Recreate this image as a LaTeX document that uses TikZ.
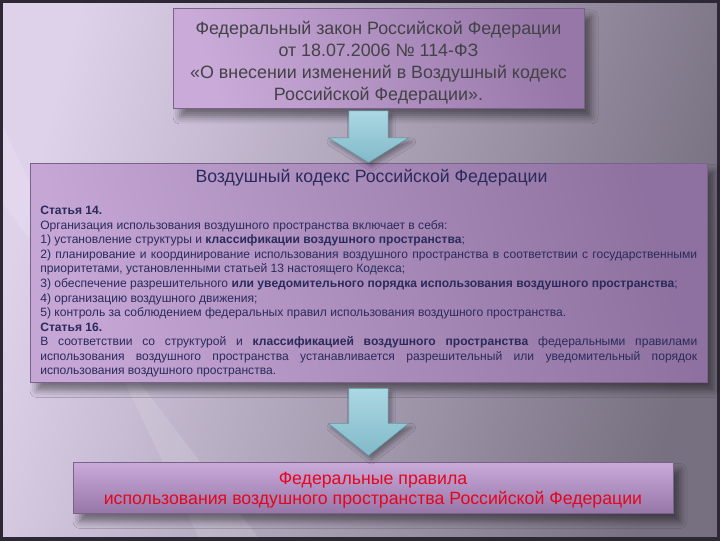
\documentclass[tikz,border=0pt]{standalone}
\usepackage{fontspec}
\setmainfont{Liberation Sans}
\usetikzlibrary{calc,shadows.blur}

\definecolor{bgleft}{HTML}{DED2EB}
\definecolor{bgright}{HTML}{777080}
\definecolor{frame}{HTML}{2E2836}
\definecolor{boxlight}{HTML}{C9AAD9}
\definecolor{boxdark}{HTML}{9677A8}
\definecolor{boxedge}{HTML}{7A628C}
\definecolor{lawtext}{HTML}{434246}
\definecolor{codetext}{HTML}{2A2B5C}
\definecolor{rulestext}{HTML}{E4061E}
\definecolor{arrowtop}{HTML}{AAD8E3}
\definecolor{arrowbot}{HTML}{82B9C8}
\definecolor{arrowedge}{HTML}{6199A8}

\def\px{0.025cm}
\newcommand{\bodyfont}{\fontsize{8.6pt}{10.35pt}\selectfont\parindent=0pt\hyphenpenalty=10000\relax}

\tikzset{
  panel/.style={draw=boxedge, line width=0.6pt,
    blur shadow={shadow xshift=5pt, shadow yshift=-6pt, shadow blur radius=5pt, shadow opacity=45}},
  lawbox/.style={panel, left color=boxlight, right color=boxdark, shading angle=110,
    text=lawtext, align=center, font=\fontsize{12.7pt}{15.6pt}\selectfont},
  codebox/.style={panel, left color=boxlight!92!boxdark, right color=boxdark!95!black, shading angle=105},
  rulesbox/.style={panel, top color=boxlight, bottom color=boxdark, shading angle=0,
    text=rulestext, align=center, font=\fontsize{12.6pt}{14.2pt}\selectfont},
  codehead/.style={text=codetext, font=\fontsize{12.6pt}{14pt}\selectfont, inner sep=0pt},
  codebody/.style={text=codetext, text width=657*\px, align=justify, inner sep=0pt, font=\bodyfont},
  arrowfill/.style={top color=arrowtop, bottom color=arrowbot, draw=arrowedge, line width=0.4pt,
    blur shadow={shadow xshift=2pt, shadow yshift=-3pt, shadow blur radius=3pt, shadow opacity=35}}
}

% block arrow: top of shaft, tip
\newcommand{\fatarrow}[2]{%
  \path[arrowfill] let \p1=(#1), \p2=(#2), \p3=($(#1)!0.52!(#2)$) in
    (\x2-14pt,\y1) -- (\x2+14pt,\y1) -- (\x2+14pt,\y3) -- (\x2+28.5pt,\y3)
    -- (\x2,\y2) -- (\x2-28.5pt,\y3) -- (\x2-14pt,\y3) -- cycle;}

\begin{document}
\begin{tikzpicture}[x=\px,y=-\px]
\useasboundingbox (0,0) rectangle (720,540);

% background
\shade[left color=bgleft, right color=bgright, shading angle=75] (0,0) rectangle (720,540);
\fill[white, opacity=0.12] (0,120) -- (0,200) -- (260,540) -- (200,540) -- cycle; %light streak%
\draw[frame, line width=4pt] (0,0) rectangle (720,540);

% boxes
\node[lawbox, minimum width=411*\px, minimum height=93*\px] (law) at (378.5,58.5)
  {\rule{0pt}{15pt}Федеральный закон Российской Федерации\\
   от 18.07.2006 № 114-ФЗ\\
   «О внесении изменений в Воздушный кодекс\\
   Российской Федерации».};

\node[codebox, minimum width=677*\px, minimum height=219*\px] (code) at (368.5,272.5) {};
\node[codehead] (codetitle) at ($(code.north)+(3,15)$) {Воздушный кодекс Российской Федерации};
\node[codebody, anchor=north west] (codetext) at (40,206)
  {\textbf{Статья 14.}\par
   Организация использования воздушного пространства включает в себя:\par
   1) установление структуры и \textbf{классификации воздушного пространства};\par
   2) планирование и координирование использования воздушного пространства в соответствии с государственными приоритетами, установленными статьей 13 настоящего Кодекса;\par
   3) обеспечение разрешительного \textbf{или уведомительного порядка использования воздушного пространства};\par
   4) организацию воздушного движения;\par
   5) контроль за соблюдением федеральных правил использования воздушного пространства.\par
   \textbf{Статья 16.}\par
   В соответствии со структурой и \textbf{классификацией воздушного пространства} федеральными правилами использования воздушного пространства устанавливается разрешительный или уведомительный порядок\linebreak{} использования воздушного пространства.};

\node[rulesbox, minimum width=600*\px, minimum height=50*\px] (rules) at (373,487.5)
  {\rule{0pt}{12.7pt}Федеральные правила\\
   использования воздушного пространства Российской Федерации};

% arrows
\coordinate (a1) at ($(law.south -| code.north)+(0,2)$);
\coordinate (a2) at ($(code.south)+(0,6)$);
\coordinate (a2end) at ($(rules.north -| code.south)+(0,-6)$);
\fatarrow{a1}{code.north}
\fatarrow{a2}{a2end}
\end{tikzpicture}
\end{document}
